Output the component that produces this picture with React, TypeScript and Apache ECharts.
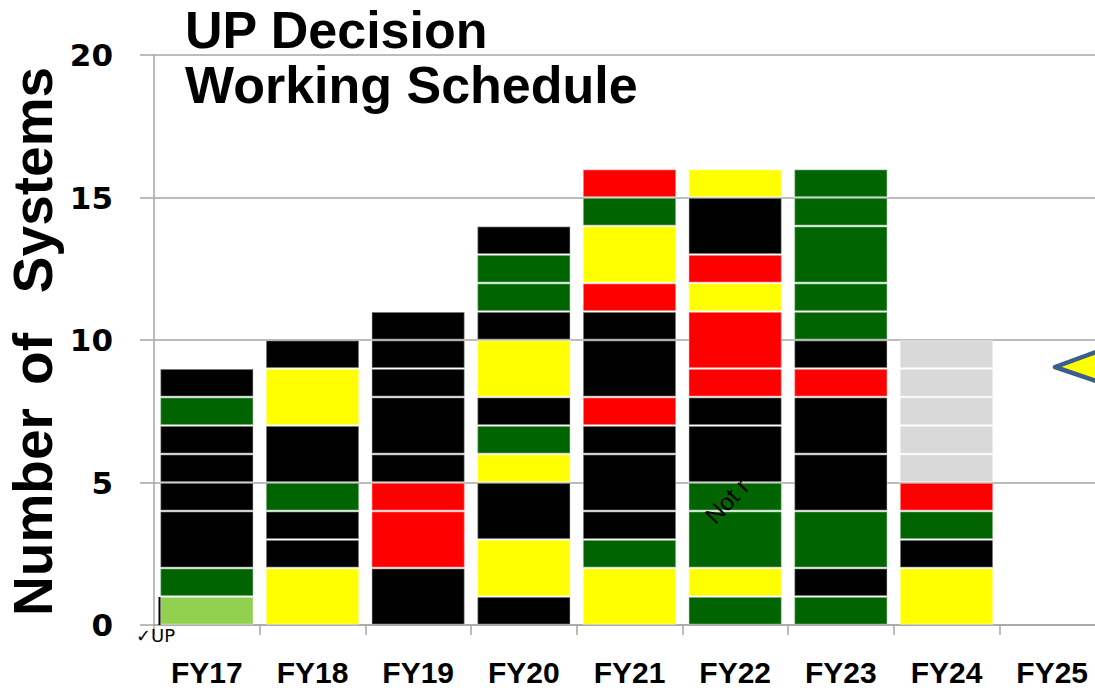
import React, { useEffect, useRef } from "react";
import * as echarts from "echarts";

// Fiscal-year categories
const categories = ["FY17", "FY18", "FY19", "FY20", "FY21", "FY22", "FY23", "FY24", "FY25"];

// Segments of each bar, bottom to top: [status, number of systems]
// LG = light green (UP done), G = green, K = black, Y = yellow, R = red, N = not yet (gray)
type Seg = [string, number];
const fy17: Seg[] = [["LG", 1], ["G", 1], ["K", 2], ["K", 1], ["K", 1], ["K", 1], ["G", 1], ["K", 1]];
const fy18: Seg[] = [["Y", 2], ["K", 1], ["K", 1], ["G", 1], ["K", 2], ["Y", 2], ["K", 1]];
const fy19: Seg[] = [["K", 2], ["R", 2], ["R", 1], ["K", 1], ["K", 2], ["K", 1], ["K", 1], ["K", 1]];
const fy20: Seg[] = [["K", 1], ["Y", 2], ["K", 2], ["Y", 1], ["G", 1], ["K", 1], ["Y", 2], ["K", 1], ["G", 1], ["G", 1], ["K", 1]];
const fy21: Seg[] = [["Y", 2], ["G", 1], ["K", 1], ["K", 2], ["K", 1], ["R", 1], ["K", 2], ["K", 1], ["R", 1], ["Y", 2], ["G", 1], ["R", 1]];
const fy22: Seg[] = [["G", 1], ["Y", 1], ["G", 2], ["G", 1], ["K", 2], ["K", 1], ["R", 1], ["R", 2], ["Y", 1], ["R", 1], ["K", 2], ["Y", 1]];
const fy23: Seg[] = [["G", 1], ["K", 1], ["G", 2], ["K", 2], ["K", 2], ["R", 1], ["K", 1], ["G", 1], ["G", 1], ["G", 2], ["G", 1], ["G", 1]];
const fy24: Seg[] = [["Y", 2], ["K", 1], ["G", 1], ["R", 1], ["N", 1], ["N", 1], ["N", 1], ["N", 1], ["N", 1]];
const fy25: Seg[] = [];

const bars: Seg[][] = [fy17, fy18, fy19, fy20, fy21, fy22, fy23, fy24, fy25];

const statusColors: Record<string, string> = {
  LG: "#92D050",
  G: "#006400",
  K: "#000000",
  Y: "#FFFF00",
  R: "#FF0000",
  N: "#D9D9D9",
};

const titleLines = ["UP Decision", "Working Schedule"];
const yTitleWords = ["Number", "of", "Systems"];

export default function App() {
  const ref = useRef<HTMLDivElement>(null);

  useEffect(() => {
    if (!ref.current) return;
    const chart = echarts.init(ref.current, null, { renderer: "svg" });
    const maxLen = Math.max(...bars.map((b) => b.length));
    const series: any[] = [];
    for (let i = 0; i < maxLen; i++) {
      series.push({
        type: "bar",
        stack: "all",
        barWidth: 94,
        silent: true,
        itemStyle: { borderColor: "rgba(255,255,255,0.3)", borderWidth: 1.5 },
        emphasis: { disabled: true },
        data: bars.map((b) =>
          b[i] ? { value: b[i][1], itemStyle: { color: statusColors[b[i][0]] } } : null
        ),
      });
    }

    const axisGray = "#A6A6A6";
    const yTitleFont = "bold 55px 'Liberation Sans'";
    chart.setOption({
      animation: false,
      grid: { left: 154, right: 10, top: 55, bottom: 66 },
      xAxis: {
        type: "category",
        data: categories,
        axisLine: { lineStyle: { color: axisGray, width: 1.5 } },
        axisTick: { show: true, length: 10, lineStyle: { color: axisGray, width: 1.5 } },
        axisLabel: {
          margin: 32,
          color: "#000",
          fontFamily: "Liberation Sans",
          fontWeight: "bold",
          fontSize: 30,
        },
      },
      yAxis: {
        type: "value",
        min: 0,
        max: 20,
        interval: 5,
        axisLine: { show: true, lineStyle: { color: axisGray, width: 1.5 } },
        axisTick: { show: true, length: 14, lineStyle: { color: axisGray, width: 1.5 } },
        splitLine: { lineStyle: { color: axisGray, width: 1.5 } },
        axisLabel: {
          margin: 41,
          color: "#000",
          fontFamily: "DejaVu Sans",
          fontWeight: "bold",
          fontSize: 31,
        },
      },
      series,
      graphic: [
        {
          type: "text",
          x: 185,
          y: 30,
          z: 100,
          style: {
            text: titleLines[0],
            font: "bold 52px 'Liberation Sans'",
            fill: "#000",
            textAlign: "left",
            textVerticalAlign: "middle",
          },
        },
        {
          type: "text",
          x: 185,
          y: 85,
          z: 100,
          style: {
            text: titleLines[1],
            font: "bold 52px 'Liberation Sans'",
            fill: "#000",
            textAlign: "left",
            textVerticalAlign: "middle",
          },
        },
        {
          type: "text",
          x: 33,
          y: 512,
          rotation: Math.PI / 2,
          z: 100,
          style: {
            text: yTitleWords[0],
            font: yTitleFont,
            fill: "#000",
            textAlign: "center",
            textVerticalAlign: "middle",
          },
        },
        {
          type: "text",
          x: 33,
          y: 359,
          rotation: Math.PI / 2,
          z: 100,
          style: {
            text: yTitleWords[1],
            font: yTitleFont,
            fill: "#000",
            textAlign: "center",
            textVerticalAlign: "middle",
          },
        },
        {
          type: "text",
          x: 33,
          y: 180,
          rotation: Math.PI / 2,
          z: 100,
          style: {
            text: yTitleWords[2],
            font: yTitleFont,
            fill: "#000",
            textAlign: "center",
            textVerticalAlign: "middle",
          },
        },
        {
          type: "text",
          x: 136,
          y: 635,
          z: 100,
          style: {
            text: "✓UP",
            font: "18px 'DejaVu Sans'",
            fill: "#000",
            textAlign: "left",
            textVerticalAlign: "middle",
          },
        },
        {
          type: "line",
          z: 100,
          shape: { x1: 159.5, y1: 597, x2: 159.5, y2: 625 },
          style: { stroke: "#000", lineWidth: 2 },
        },
        {
          type: "text",
          x: 718,
          y: 528,
          rotation: 0.82,
          z: 100,
          style: {
            text: "Not r",
            font: "24px 'Liberation Sans'",
            fill: "#000",
            textAlign: "left",
            textVerticalAlign: "bottom",
          },
        },
        {
          type: "polygon",
          z: 100,
          shape: { points: [[1055, 367], [1140, 336], [1140, 396]] },
          style: { fill: "#FFFF00", stroke: "#3B5E8C", lineWidth: 4.5, lineJoin: "round" },
        },
      ],
    });
    return () => chart.dispose();
  }, []);

  return (
    <div
      style={{
        position: "absolute",
        left: 0,
        top: 0,
        width: 1095,
        height: 691,
        overflow: "hidden",
        background: "#fff",
      }}
    >
      <div ref={ref} style={{ width: 1115, height: 691 }} />
    </div>
  );
}
